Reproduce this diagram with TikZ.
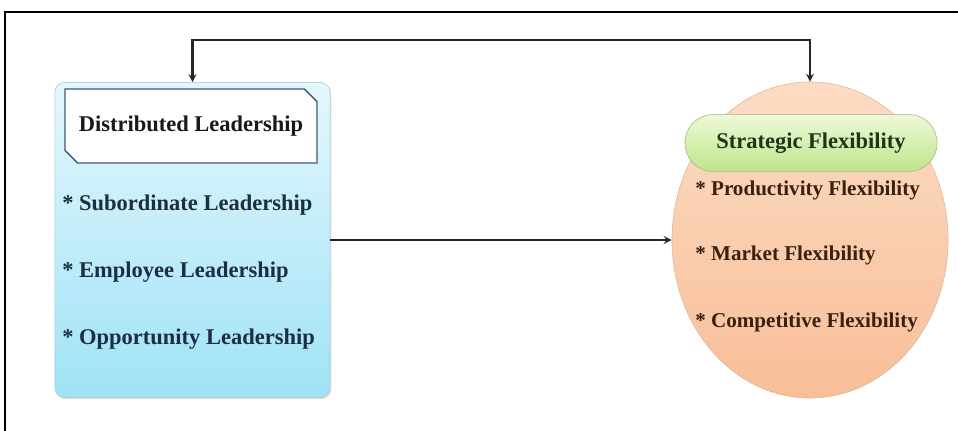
\documentclass[tikz,border=0pt]{standalone}
\usepackage{fontspec}
\setmainfont{Liberation Serif}
\newfontfamily\timesface{Liberation Serif}
\usetikzlibrary{positioning, arrows, shapes.geometric, shapes.misc, shadows}
\definecolor{leadtop}{HTML}{E4F8FD}
\definecolor{leadbot}{HTML}{9FE2F6}
\definecolor{leadline}{HTML}{A9C4CF}
\definecolor{headline}{HTML}{3F5876}
\definecolor{leadtext}{HTML}{1C2E44}
\definecolor{flextop}{HTML}{FCDCC4}
\definecolor{flexbot}{HTML}{F8BE98}
\definecolor{flexline}{HTML}{D9B79A}
\definecolor{flextext}{HTML}{3A200F}
\definecolor{pilltop}{HTML}{EEF9D8}
\definecolor{pillbot}{HTML}{BFE58A}
\definecolor{pillline}{HTML}{9DB58A}
\definecolor{pilltext}{HTML}{1F351A}
\tikzset{
    x=0.025cm, y=-0.025cm, % one unit = one pixel of the sketch, y runs down
    >=stealth, % small bold arrow heads
    link/.style={line width=1.5pt, draw=black!85},
    lead box/.style={draw=leadline, rounded corners=7pt, top color=leadtop, bottom color=leadbot,
        minimum width=6.875cm, minimum height=7.875cm,
        drop shadow={opacity=0.25, shadow xshift=1pt, shadow yshift=-1.2pt}},
    head box/.style={chamfered rectangle, chamfered rectangle corners={north east, south west},
        chamfered rectangle xsep=6pt, draw=headline, line width=1pt, fill=white,
        minimum width=6.3cm, minimum height=1.85cm, text=black!90,
        font=\timesface\fontsize{16}{19}\selectfont\bfseries},
    lead item/.style={anchor=west, inner sep=0pt, text=leadtext, font=\timesface\fontsize{16}{19}\selectfont\bfseries},
    flex oval/.style={ellipse, draw=flexline, top color=flextop, bottom color=flexbot,
        inner sep=0pt, minimum width=6.9cm, minimum height=7.9cm},
    pill/.style={draw=pillline, rounded corners=0.7cm, top color=pilltop, bottom color=pillbot,
        minimum width=6.3cm, minimum height=1.42cm, text=pilltext,
        font=\timesface\fontsize{16}{19}\selectfont\bfseries},
    flex item/.style={anchor=west, inner sep=0pt, text=flextext, font=\timesface\fontsize{15}{18}\selectfont\bfseries},
}
\begin{document}
\begin{tikzpicture}
\useasboundingbox (0,0) rectangle (958,431);
% frame
\draw[line width=2pt] (5,431) -- (5,12) -- (958,12);

% left side
\node[lead box] (lead) at (192.5,240) {};
\node[head box] (dl) at (191,126) {Distributed Leadership};
\node[lead item] (sub) at (62,205) {* Subordinate Leadership};
\node[lead item, below=1.68cm of sub.west, anchor=west] (emp) {* Employee Leadership};
\node[lead item, below=1.68cm of emp.west, anchor=west] (opp) {* Opportunity Leadership};

% right side
\node[flex oval] (flex) at (810,240) {};
\node[pill] (sf) at (811,143) {Strategic Flexibility};
\node[flex item] (prod) at (695,190) {* Productivity Flexibility};
\node[flex item, below=1.63cm of prod.west, anchor=west] (mkt) {* Market Flexibility};
\node[flex item, below=1.67cm of mkt.west, anchor=west] (comp) {* Competitive Flexibility};

% connectors
\draw[link, <->] (lead.north) -- ++(0,-42) -| (flex.north);
\draw[link, ->] (lead.east) -- (flex.west);
\end{tikzpicture}
\end{document}
